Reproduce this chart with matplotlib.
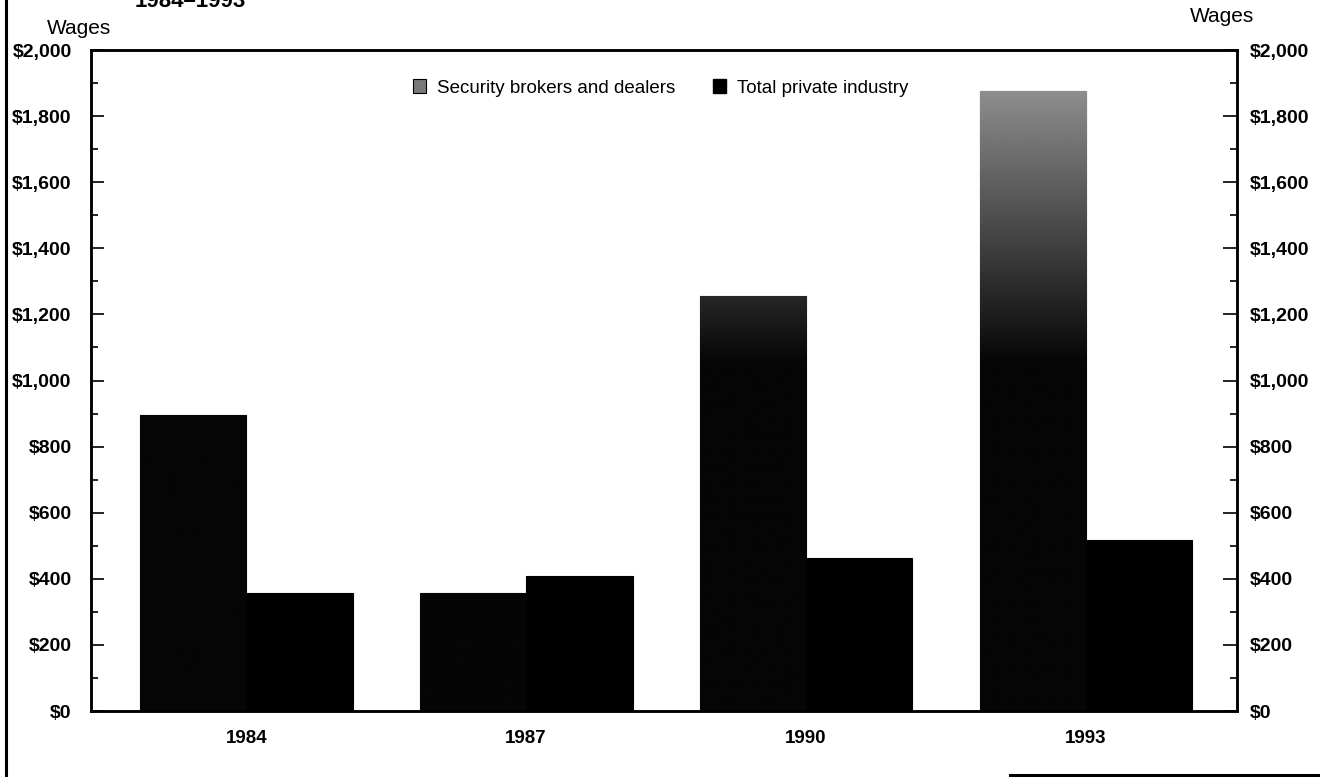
import numpy as np
import matplotlib
matplotlib.use("Agg")
import matplotlib.pyplot as plt
from matplotlib.lines import Line2D
from matplotlib.patches import Patch
from matplotlib.ticker import MultipleLocator, FuncFormatter

plt.rcParams['font.family'] = ['Liberation Sans', 'DejaVu Sans']

years = ['1984', '1987', '1990', '1993']
security_brokers = [897, 358, 1255, 1875]
private_industry = [356, 408, 463, 516]
series_names = ['Security brokers and dealers', 'Total private industry']

W, H = 1320, 777
fig = plt.figure(figsize=(W / 100, H / 100), dpi=100)
ax = fig.add_axes([91 / W, (H - 711) / H, (1237 - 91) / W, (711 - 50) / H])

x = np.arange(len(years))
bw = 0.38

# private industry bars: solid black
ax.bar(x + bw / 2, private_industry, width=bw, color='black', edgecolor='black', linewidth=0.8, zorder=2)

# security bars: grey-to-black gradient tied to the wage level
sec_bars = ax.bar(x - bw / 2, security_brokers, width=bw, color='black', edgecolor='black',
                  linewidth=0.8, zorder=2)
for rect, val in zip(sec_bars, security_brokers):
    x0 = rect.get_x()
    yy = np.linspace(val, 0, 400)
    shade = np.clip((yy - 1050) / 850, 0, 1) * 0.55 + 0.02
    img = np.repeat(shade[:, None], 2, axis=1)
    im = ax.imshow(img, cmap='gray', vmin=0, vmax=1, aspect='auto',
                   extent=(x0, x0 + bw, 0, val), zorder=3, interpolation='bilinear')
    im.set_clip_path(rect)

ax.set_xlim(-0.555, 3.54)
ax.set_ylim(0, 2000)

money = FuncFormatter(lambda v, p: f"${v:,.0f}")
ax.yaxis.set_major_locator(MultipleLocator(200))
ax.yaxis.set_minor_locator(MultipleLocator(100))
ax.yaxis.set_major_formatter(money)
ax.tick_params(axis='y', which='major', direction='in', length=9, width=1.2, pad=14,
               labelsize=14, right=False)
ax.tick_params(axis='y', which='minor', direction='in', length=5, width=1.2, right=False)
for lab in ax.get_yticklabels():
    lab.set_fontweight('bold')

ax.set_xticks(x)
ax.set_xticklabels(years, fontsize=13.5, fontweight='bold')
ax.tick_params(axis='x', length=0, pad=14)

for s in ax.spines.values():
    s.set_linewidth(1.8)

ax2 = ax.twinx()
ax2.set_ylim(0, 2000)
ax2.yaxis.set_major_locator(MultipleLocator(200))
ax2.yaxis.set_minor_locator(MultipleLocator(100))
ax2.yaxis.set_major_formatter(money)
ax2.tick_params(axis='y', which='major', direction='in', length=10, width=1.2, pad=9,
                labelsize=14)
ax2.tick_params(axis='y', which='minor', direction='in', length=5, width=1.2)
for lab in ax2.get_yticklabels():
    lab.set_fontweight('bold')
for s in ax2.spines.values():
    s.set_linewidth(1.8)

handles = [Patch(facecolor='#7a7a7a', edgecolor='black', linewidth=0.8),
           Patch(facecolor='black', edgecolor='black')]
ax.legend(handles, series_names, ncol=2, frameon=False, fontsize=13.5,
          loc='center', bbox_to_anchor=(0.497, 1 - (88 - 50) / (711 - 50)),
          handlelength=0.7, handleheight=0.7, handletextpad=0.6, columnspacing=2.0)

fig.text(79 / W, 1 - 28 / H, 'Wages', ha='center', va='center', fontsize=15)
fig.text(1222 / W, 1 - 16 / H, 'Wages', ha='center', va='center', fontsize=15)
fig.text(190 / W, 1 - 7 / H, '1984\u20131993', ha='center', va='baseline',
         fontsize=16, fontweight='bold')

# outer frame edges
fig.add_artist(Line2D([6 / W, 6 / W], [0, 1], color='black', linewidth=2.2))
fig.add_artist(Line2D([1010 / W, 1], [2 / H, 2 / H], color='black', linewidth=2.2))

fig.savefig('out.png', dpi=100)
